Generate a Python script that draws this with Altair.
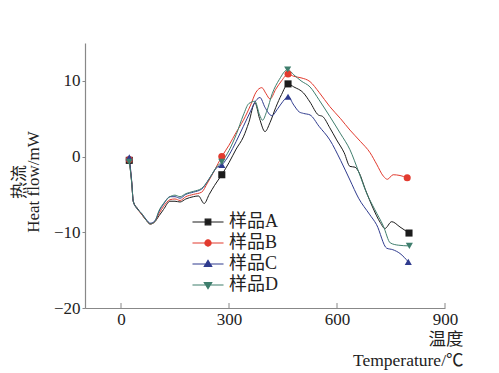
import altair as alt
import pandas as pd

series = ["样品A", "样品B", "样品C", "样品D"]
colors = ["#1c1c1c", "#e23b2f", "#2f3b8e", "#3f7e6d"]
shapes = ["square", "circle", "triangle-up", "triangle-down"]
legend_paths = [
    "M-2.07,0H2.07M-0.38,-0.38H0.38V0.38H-0.38Z",
    "M-2.07,0H2.07M-0.42,0A0.42,0.42,0,1,1,0.42,0A0.42,0.42,0,1,1,-0.42,0Z",
    "M-2.07,0H2.07M0,-0.48L0.5,0.34L-0.5,0.34Z",
    "M-2.07,0H2.07M0,0.48L0.5,-0.34L-0.5,-0.34Z",
]

temp_A = [23,30,34,45,57,70,81,94,106,118,136,150,164,180,201,215,231,245,260,280,300,320,340,355,372,385,400,414,430,446,464,480,507,525,548,560,580,599,620,636,650,660,680,700,720,733,752,775,800]
flow_A = [-0.5,-3.6,-5.9,-6.8,-7.6,-8.4,-8.9,-8.6,-7.8,-7.0,-5.9,-5.9,-6.0,-5.6,-5.3,-5.2,-6.2,-5.0,-3.8,-2.4,-0.8,1.0,2.6,4.5,7.1,5.0,3.3,4.5,6.5,8.2,9.6,9.2,8.4,7.2,5.5,5.3,3.8,2.2,0.5,-1.3,-1.4,-2.0,-4.5,-6.8,-8.7,-9.5,-8.6,-9.3,-10.1]

temp_B = [23,30,34,45,57,70,81,94,106,118,136,150,164,180,201,224,240,260,280,300,320,340,360,375,391,403,414,430,446,464,480,500,525,550,580,610,636,665,692,710,729,740,756,775,795]
flow_B = [-0.4,-3.5,-5.9,-6.9,-7.6,-8.4,-8.9,-8.6,-7.5,-6.6,-5.7,-5.6,-5.8,-5.3,-5.0,-4.7,-3.5,-1.8,0.0,1.5,3.2,4.8,6.8,8.5,9.1,8.3,7.6,8.9,10.0,10.9,10.6,10.4,9.9,8.5,6.6,5.0,3.5,2.0,0.5,-1.0,-2.6,-3.0,-2.4,-2.5,-2.8]

temp_C = [23,30,34,45,57,70,81,94,106,118,136,150,164,180,201,224,240,252,265,280,300,320,340,360,375,386,400,419,435,450,464,480,495,507,525,550,580,610,636,660,690,710,738,755,775,798]
flow_C = [-0.1,-3.4,-5.9,-6.9,-7.5,-8.3,-8.8,-8.5,-7.2,-6.3,-5.3,-5.3,-5.5,-5.0,-4.7,-4.3,-3.3,-2.4,-1.5,-1.1,0.2,2.0,4.0,6.0,7.4,7.8,6.5,5.4,6.3,7.3,7.9,6.8,5.9,5.7,5.5,4.0,2.2,-0.5,-3.1,-5.5,-7.6,-9.0,-12.1,-12.3,-12.8,-13.9]

temp_D = [23,30,34,45,57,70,81,94,106,118,136,150,164,180,201,224,240,252,265,280,300,320,340,355,372,385,393,405,420,440,463,480,500,525,550,580,610,636,660,682,705,729,748,770,801]
flow_D = [-0.7,-3.6,-5.9,-6.9,-7.5,-8.4,-8.9,-8.6,-7.1,-6.2,-5.3,-5.1,-5.3,-4.9,-4.6,-4.2,-3.3,-2.4,-1.4,-0.7,0.8,2.9,5.5,7.0,7.3,5.5,4.8,6.0,8.3,10.2,11.5,10.8,10.0,9.2,7.5,5.3,3.0,0.9,-2.0,-4.8,-7.0,-9.2,-11.4,-11.7,-11.8]

marker_A = [23, 280, 464, 800]
marker_B = [23, 280, 464, 795]
marker_C = [23, 280, 464, 798]
marker_D = [23, 280, 463, 801]

x_ticks = [0, 300, 600, 900]
y_ticks = [-20, -10, 0, 10]

rows = []
for name, ts, fs, ms in zip(series, [temp_A, temp_B, temp_C, temp_D],
                            [flow_A, flow_B, flow_C, flow_D],
                            [marker_A, marker_B, marker_C, marker_D]):
    for t, f in zip(ts, fs):
        rows.append({"series": name, "temp": t, "flow": f, "marker": t in ms})
df = pd.DataFrame(rows)

FONT = "Liberation Serif, Noto Sans CJK SC"
W, H = 360, 265

xscale = alt.Scale(domain=[-100, 900], nice=False, zero=False)
yscale = alt.Scale(domain=[-20, 15], nice=False, zero=False)

x_enc = alt.X("temp:Q", scale=xscale,
              axis=alt.Axis(values=x_ticks, title=["温度", "Temperature/℃"],
                            grid=False, tickSize=0, labelPadding=3, labelFlush=False,
                            titleAnchor="end", titleAlign="right", titleAngle=0,
                            titleX=W + 18, titleY=22, titleBaseline="top",
                            titleLineHeight=21, titleFontSize=17.5))
y_enc = alt.Y("flow:Q", scale=yscale,
              axis=alt.Axis(values=y_ticks, title=["热流", "Heat flow/mW"],
                            grid=False, tickSize=3, labelPadding=2, labelFlush=False,
                            titleX=-66, titleY=H / 2 + 6, titleAlign="center",
                            titleBaseline="middle", titleLineHeight=14, titleFontSize=17))

color_scale = alt.Scale(domain=series, range=colors)

lines = alt.Chart(df).mark_line(strokeWidth=1, interpolate="monotone").encode(
    x=x_enc, y=y_enc,
    color=alt.Color("series:N", scale=color_scale, legend=None),
    detail="series:N",
    order="temp:Q",
)

points = alt.Chart(df).transform_filter(alt.datum.marker).mark_point(
    filled=True, size=50, opacity=1).encode(
    x="temp:Q", y="flow:Q",
    color=alt.Color("series:N", scale=color_scale, legend=None),
    shape=alt.Shape("series:N", scale=alt.Scale(domain=series, range=shapes), legend=None),
)

xticks_df = pd.DataFrame({"tick": x_ticks})
xtick_marks = alt.Chart(xticks_df).mark_rule(color="#888888", strokeWidth=1).encode(
    x="tick:Q", y=alt.value(H), y2=alt.value(H - 5))


def leg():
    return alt.Legend(title=None, orient="none", legendX=114, legendY=170,
                      symbolSize=225, symbolOpacity=1,
                      symbolStrokeWidth=1.1, labelFont=FONT,
                      labelFontSize=18, labelColor="#222222",
                      labelOffset=12, rowPadding=3, padding=0)


leg_df = pd.DataFrame({"series": series})
legend_layer = alt.Chart(leg_df).mark_point(opacity=0).encode(
    x=alt.value(0), y=alt.value(0),
    fill=alt.Fill("series:N", scale=alt.Scale(domain=series, range=colors), legend=leg()),
    stroke=alt.Stroke("series:N", scale=alt.Scale(domain=series, range=colors), legend=leg()),
    shape=alt.Shape("series:N", scale=alt.Scale(domain=series, range=legend_paths), legend=leg()),
)

chart = alt.layer(lines, points, xtick_marks, legend_layer).resolve_scale(
    color="independent", shape="independent", fill="independent", stroke="independent"
).properties(
    width=W, height=H,
    autosize=alt.AutoSizeParams(type="none"),
    padding={"left": 77, "top": 35, "right": 30, "bottom": 62},
).configure_view(stroke=None).configure_axis(
    domainColor="#888888", tickColor="#888888", labelFont=FONT, titleFont=FONT,
    labelFontSize=17, titleFontSize=17, labelColor="#222222", titleColor="#222222",
    titleFontWeight="normal", domainWidth=1.2,
)

chart.save("out.html", embed_options={"renderer": "svg", "actions": False})
